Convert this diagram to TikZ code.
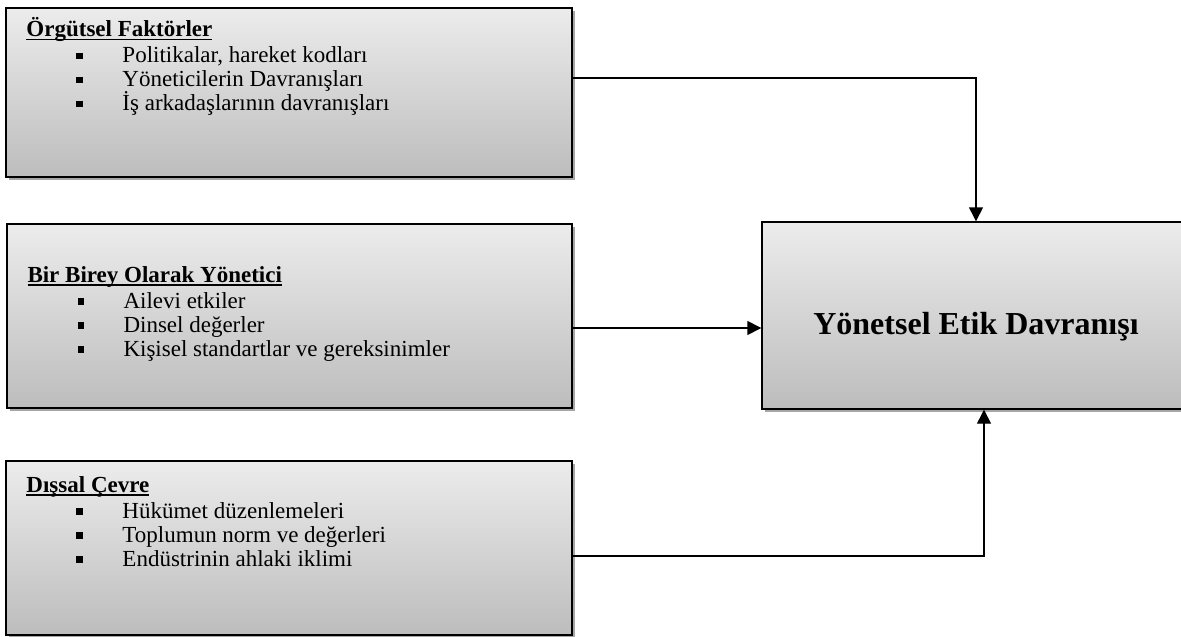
\documentclass[tikz,border=0pt]{standalone}
\usepackage{fontspec}
\setmainfont{Liberation Serif}
\usetikzlibrary{positioning,shadows,arrows.meta}
\newcommand{\madde}{\hspace*{50pt}\raisebox{3.5pt}{\rule{6.5pt}{6.5pt}}\hspace*{39.5pt}}
\newcommand{\baslik}[1]{\setbox0\hbox{\textbf{#1}}\rlap{\rule[-3.5pt]{\wd0}{1.6pt}}\box0}

\begin{document}
\begin{tikzpicture}[x=1pt,y=1pt,
  kutu/.style={draw, line width=1.4pt, top color=gray!15, bottom color=gray!52,
    drop shadow={shadow xshift=3pt, shadow yshift=-3pt, fill=black!35, opacity=1}},
  liste/.style={inner sep=0pt, align=left, font=\fontsize{23}{24}\selectfont},
  ok/.style={-{Triangle[length=14pt,width=14pt]}, line width=1.4pt}]
\useasboundingbox (0,0) rectangle (1181,-637);
% Etik davranis modeli
\node[kutu, minimum width=566pt, minimum height=169pt] (org) at (289,-92.5) {};
\node[kutu, minimum width=565pt, minimum height=184pt] (ind) at (289.5,-316) {};
\node[kutu, minimum width=566pt, minimum height=174pt] (env) at (289,-548) {};
\node[kutu, minimum width=428pt, minimum height=187pt] (beh) at (976,-315.5) {};
\node[font=\fontsize{32}{36}\selectfont\bfseries] (beht) at ([yshift=-11pt]beh.center) {Yönetsel Etik Davranışı};

\node[liste, below right=10pt and 21pt of org.north west] (orgt) {\baslik{Örgütsel Faktörler}\\[2pt]
  \madde Politikalar, hareket kodları\\
  \madde Yöneticilerin Davranışları\\
  \madde İş arkadaşlarının davranışları};
\node[liste, below right=43pt and 21pt of ind.north west] (indt) {\baslik{Bir Birey Olarak Yönetici}\\[2pt]
  \madde Ailevi etkiler\\
  \madde Dinsel değerler\\
  \madde Kişisel standartlar ve gereksinimler};
\node[liste, below right=16pt and 21pt of env.north west] (envt) {\baslik{Dışsal Çevre}\\[2pt]
  \madde Hükümet düzenlemeleri\\
  \madde Toplumun norm ve değerleri\\
  \madde Endüstrinin ahlaki iklimi};

\draw[ok] ([yshift=14.5pt]org.east) -| (beh.north);
\draw[ok] ([yshift=-12pt]ind.east) -- ([yshift=-12pt]ind.east -| beh.west);
\draw[ok] ([yshift=-8pt]env.east) -| ([xshift=8pt]beh.south);
\end{tikzpicture}
\end{document}
